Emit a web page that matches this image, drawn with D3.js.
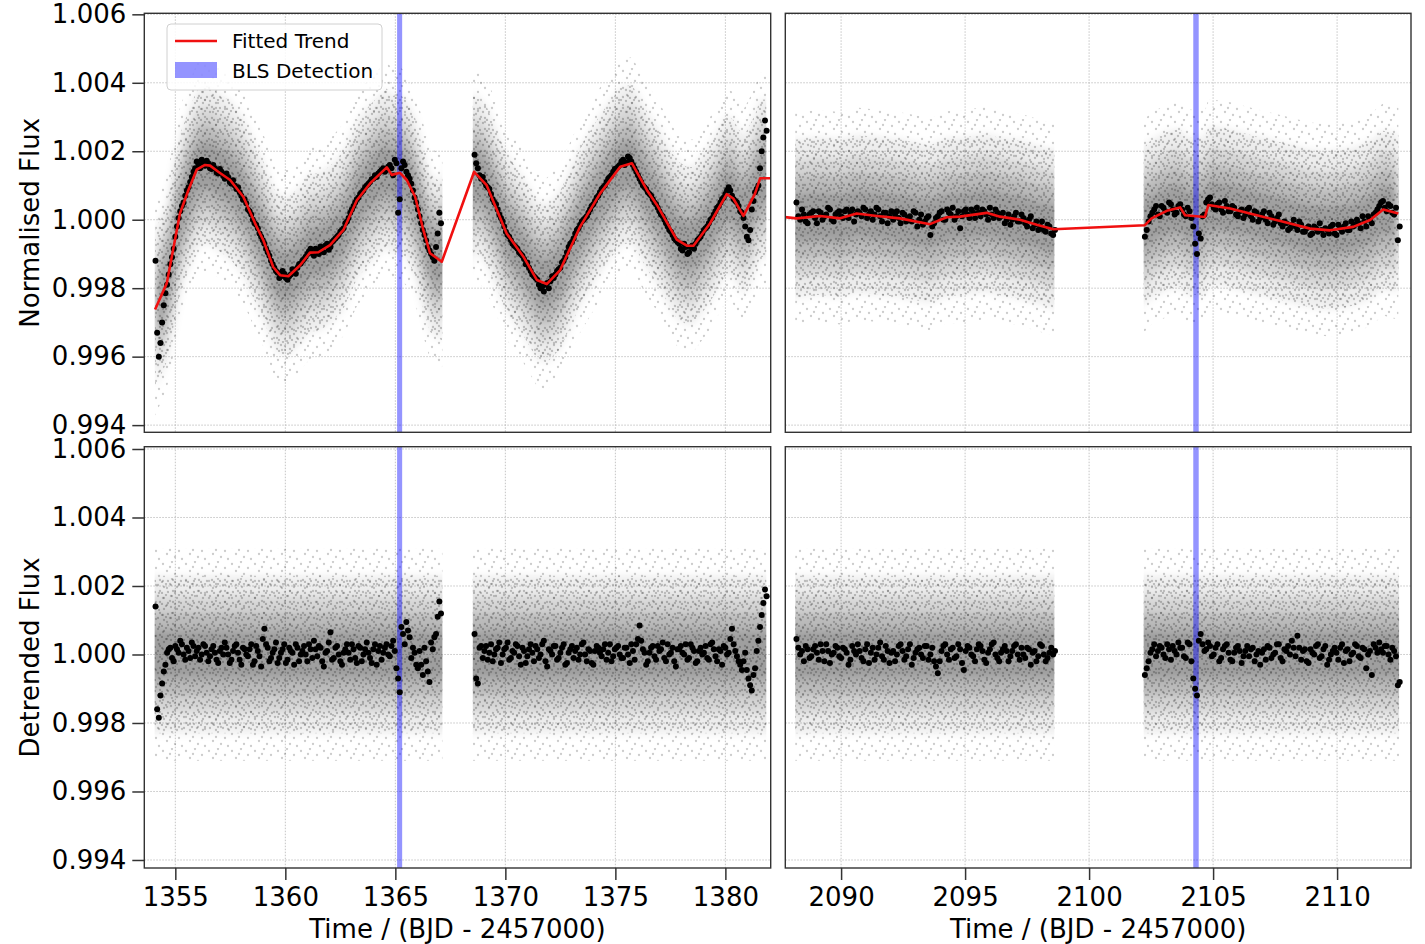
<!DOCTYPE html>
<html>
<head>
<meta charset="utf-8">
<script src="https://cdn.jsdelivr.net/npm/d3@7"></script>
<style>
  body { margin: 0; background: #fff; }
  text { font-family: "DejaVu Sans", sans-serif; fill: #000; }
</style>
</head>
<body>
<svg id="chart" width="1425" height="944"></svg>
<script>
// ---- data (flux values are stored as (flux - 1) in units of 1e-5) ----
const yTicks = [0.994, 0.996, 0.998, 1.000, 1.002, 1.004, 1.006];
const xTicksLeft = [1355, 1360, 1365, 1370, 1375, 1380];
const xTicksRight = [2090, 2095, 2100, 2105, 2110];

// fitted trend (red line)
const trendLeftTime = [1354.08, 1354.61, 1355.21, 1355.59, 1355.97, 1356.35, 1356.58, 1356.95, 1357.49, 1358.09,
  1358.70, 1359.00, 1359.45, 1359.76, 1360.14, 1360.67, 1361.12, 1361.50, 1362.03, 1362.64,
  1363.25, 1363.85, 1364.61, 1364.84, 1365.21, 1365.52, 1365.90, 1366.27, 1366.58, 1367.11,
  1368.58, 1369.15, 1370.06, 1370.82, 1371.43, 1371.88, 1372.49, 1373.40, 1374.31, 1375.22,
  1375.75, 1376.43, 1376.88, 1377.79, 1378.25, 1378.55, 1379.30, 1380.06, 1380.36, 1380.82,
  1381.12, 1381.35, 1381.58, 1382.20];
const trendLeftFlux = [-262, -186, 18, 86, 146, 160, 158, 140, 116, 67,
  -21, -60, -138, -162, -165, -133, -96, -95, -74, -30,
  57, 106, 153, 131, 137, 116, 67, -30, -98, -123,
  140, 101, -40, -108, -176, -188, -147, -20, 77, 155,
  165, 87, 44, -58, -76, -76, -11, 75, 62, 11,
  48, 77, 121, 121];
const trendRightTime = [2087.70, 2088.21, 2089.15, 2089.96, 2090.63, 2091.44, 2092.37, 2093.58, 2094.26, 2094.79,
  2095.87, 2096.41, 2097.21, 2097.89, 2098.56, 2102.25, 2102.52, 2103.13, 2103.67, 2103.87,
  2104.67, 2104.81, 2105.69, 2106.76, 2107.83, 2108.91, 2109.71, 2110.65, 2111.33, 2111.86, 2112.47];
const trendRightFlux = [8, 4, 11, 4, 18, 11, 4, -13, 7, 9,
  20, 9, 0, -15, -28, -16, 4, 26, 36, 13,
  8, 43, 33, 13, -6, -26, -31, -21, -1, 30, 18];

// time ranges covered by observations
const segmentsLeft = [[1354.06, 1367.14], [1368.52, 1381.86]];
const segmentsRight = [[2088.15, 2098.60], [2102.20, 2112.50]];

// binned light curve (black points), regular bins; two interleaved sets per segment
const binStep = 0.15;
const binStartLeft = [1354.10, 1354.175, 1368.60, 1368.675];
const binStartRight = [2088.20, 2088.275, 2102.25, 2102.325];

const binnedFluxA = [-120, -400, -300, -215, -160, -110, -50, 5, 40, 70, 95, 125, 150, 162, 175, 158, 165, 148, 150, 135,
  140, 120, 125, 105, 100, 95, 70, 60, 30, 15, -10, -25, -50, -70, -95, -120, -140, -155, -165, -158,
  -175, -160, -150, -140, -128, -115, -100, -85, -105, -90, -78, -95, -70, -80, -60, -50, -35, -25, -5, 20,
  40, 60, 75, 85, 100, 110, 120, 125, 140, 150, 145, 160, 130, 165, 60, 170, 140, 120, 85, 50,
  10, -30, -60, -90, -110, -80, 20];
const binnedFluxA2 = [-330, -360, -250, -190, -130, -85, -20, 25, 50, 85, 110, 140, 170, 150, 165, 172, 150, 160, 138, 148,
  128, 135, 110, 115, 90, 80, 58, 48, 25, 0, -15, -40, -60, -85, -105, -130, -150, -170, -150, -170,
  -165, -145, -158, -130, -120, -108, -92, -98, -85, -100, -85, -75, -88, -65, -55, -45, -30, -10, 5, 30,
  50, 65, 80, 95, 105, 118, 130, 135, 145, 140, 155, 150, 175, 20, 150, 160, 130, 105, 65, 30,
  -10, -45, -80, -100, -120, -40, -10];
const binnedFluxB = [190, 150, 120, 110, 95, 75, 50, 30, 5, -20, -45, -60, -75, -85, -100, -115, -125, -150, -165, -175,
  -200, -210, -185, -180, -170, -150, -140, -120, -95, -70, -55, -30, -15, 0, 10, 30, 45, 65, 80, 95,
  110, 125, 140, 150, 160, 175, 168, 180, 160, 140, 120, 100, 90, 75, 60, 45, 25, 10, -10, -30,
  -45, -60, -70, -90, -80, -95, -75, -70, -55, -40, -25, -10, 5, 25, 40, 60, 75, 95, 70, 55,
  40, 20, -20, -60, 30, 80, 100, 200, 290];
const binnedFluxB2 = [165, 130, 125, 100, 90, 60, 45, 15, -5, -35, -50, -70, -80, -95, -105, -130, -140, -160, -170, -190,
  -195, -190, -200, -165, -160, -145, -125, -110, -80, -65, -40, -25, -5, 5, 20, 40, 55, 70, 90, 100,
  120, 130, 148, 155, 170, 160, 185, 170, 150, 130, 110, 95, 80, 70, 50, 35, 15, 0, -20, -35,
  -55, -65, -85, -70, -100, -80, -85, -60, -50, -30, -20, 0, 15, 35, 50, 65, 85, 85, 60, 50,
  25, 5, -50, -30, 55, 90, 150, 240, 260];
const binnedFluxC = [50, 0, 15, -10, 20, 5, 25, 0, 15, 30, -5, 20, 10, 25, 5, 30, 15, 20, 35, 5,
  25, 15, 30, -5, 20, 10, 0, 25, -10, 15, 5, -5, 20, 0, -15, 5, -45, -10, 10, 25,
  0, 20, 35, 10, -25, 25, 15, 30, 5, 20, 30, 15, 35, 5, 20, 10, -10, 15, 0, 20,
  -5, 5, -20, 10, -15, -30, -5, -35, -20, -45];
const binnedFluxC2 = [10, 30, -5, 15, 25, -10, 20, 10, 35, 0, 15, 25, 5, 30, 20, -5, 25, 10, 30, 15,
  0, 35, 10, 20, -10, 25, 15, 5, 20, -5, 10, 25, -20, 15, -5, 10, -20, 5, 20, 0,
  30, 15, 0, 25, 10, 30, 5, 20, 35, 10, 25, 0, 15, 30, 5, 20, 0, -15, 10, -5,
  15, -10, 0, -25, -5, -20, -30, -15, -40, -30];
const binnedFluxD = [-50, -5, 20, 40, 10, 35, 20, 45, 15, 40, 30, 10, 25, -20, -100, -55, 15, 60, 45, 30,
  50, 20, 40, 25, 35, 10, 30, 15, 35, 0, 20, 5, 25, -10, 10, -5, 15, -20, -10, -25,
  0, -30, -15, -35, -20, -40, -25, -10, -45, -30, -20, -40, -15, -35, -10, -30, -20, 0, -25, -5,
  10, -10, 20, 40, 55, 25, 40, 15, -60];
const binnedFluxD2 = [-30, 10, 30, 15, 40, 25, 50, 30, 20, 45, 15, 35, 5, -70, -40, 10, 50, 65, 35, 45,
  30, 55, 25, 40, 15, 25, 5, 30, 10, 25, -5, 15, 0, 20, -15, 5, -10, -5, -30, -15,
  -20, -5, -35, -25, -45, -20, -35, -30, -25, -40, -15, -45, -25, -20, -30, -5, -15, -10, 10, -20,
  0, 15, 30, 50, 35, 45, 20, 35, -20];

const detrendedA = [140, -185, -85, -30, 15, -10, 25, 5, 30, -15, 10, 35, -5, 20, 0, 25, -20, 15, 5, -25,
  20, 35, 0, -15, 25, 5, -30, 15, -5, 30, -20, 10, -35, 75, 20, -10, 15, -25, 5, 30,
  -15, 10, -30, 20, 0, 25, -20, 15, 40, -5, 20, -35, 10, 65, -10, 25, -20, 5, 30, -15,
  15, -25, 20, 0, 35, -10, 15, -30, 25, 5, 30, -5, 40, -40, -110, 60, 95, 50, 20, -30,
  10, -60, -20, -80, 15, 60, 155];
const detrendedA2 = [-160, -120, -50, 5, 20, -20, 15, 40, 0, 20, -10, 25, 10, -15, 30, 5, -5, 25, -15, 10,
  0, 20, -25, 10, 30, -15, 20, 0, 15, -30, 25, -5, 45, 30, -20, 5, 35, -10, 15, -25,
  20, 5, 30, -20, 10, 0, 30, -10, 15, 25, -20, 5, 35, -15, 20, 0, -30, 15, 5, 30,
  -10, 25, -20, 15, 5, -25, 30, 10, -15, 20, 0, 25, 10, -70, 80, 30, 70, -10, 5, -40,
  -30, 20, -50, 35, 50, 110, 120];
const detrendedB = [60, -85, 25, 10, -15, 30, 0, 20, -25, 15, 35, -10, 5, 25, -30, 10, -5, 30, -20, 15,
  0, 40, -35, 10, 25, -15, 5, 30, -25, 15, -10, 20, 0, 35, -20, 10, -30, 25, 5, 15,
  -15, 30, -5, 20, 0, -10, 20, -25, 10, 30, 85, 15, -30, 5, 25, -15, 10, 35, -20, 0,
  20, -35, 15, 5, 30, -10, 20, -25, 10, 0, 25, -15, 35, -5, 15, -30, 20, 5, 75, 10,
  -20, -45, 5, -70, -105, -40, 40, 115, 190];
const detrendedB2 = [-70, 20, -10, 25, 5, -20, 15, 35, 0, 20, -15, 10, 30, -5, 20, -25, 15, 5, 25, -10,
  30, -20, 15, 0, 25, -10, 20, -30, 5, 25, 10, -15, 30, 0, 15, -25, 10, 20, -5, 30,
  5, -20, 15, 25, -10, 20, 0, 30, -15, 45, 40, 5, -20, 20, -5, 25, 15, -10, 30, 5,
  -20, 15, 25, 0, -15, 30, 10, -20, 20, 5, -10, 30, 15, -20, 10, 25, 0, 45, 30, -5,
  -30, -20, -45, -90, -60, 10, 80, 150, 170];
const detrendedC = [45, 0, -20, 15, -5, 25, -15, 10, 30, -25, 5, 20, -10, 15, -30, 25, 0, 10, -20, 30,
  5, -15, 20, -5, 25, -25, 10, 0, 30, -15, 15, -30, 5, 20, -10, 25, 0, -20, -55, 10,
  30, -15, 20, -5, 15, -45, 25, 0, -20, 30, 10, -25, 15, 35, -10, 5, 25, -20, 10, 30,
  -15, 0, 20, -30, 10, -5, 25, -20, 5, 0];
const detrendedC2 = [20, 10, 25, -10, 15, 5, 30, -20, 10, 0, 25, -5, 20, 5, -15, 10, 30, -10, 15, -25,
  20, 0, 35, -15, 10, 5, -20, 25, 10, -5, 30, -10, 15, 0, 25, -15, 20, -35, -20, 25,
  0, 15, -10, 30, -25, 10, 20, -5, 15, 25, -15, 5, 30, 0, -20, 15, 10, -5, 25, 0,
  20, -10, 15, 5, -20, 30, 0, -10, 20, 10];
const detrendedD = [-60, -20, 15, -5, 25, 0, 30, -15, 10, 35, 20, -10, 30, -70, -120, 60, 10, 35, -5, 20,
  -20, 15, 30, -15, 5, 25, -25, 10, -5, 20, 0, -30, 15, 25, -10, 5, 30, -20, 10, 0,
  20, 55, -15, 15, -25, 5, 25, -10, 15, -30, 0, 20, -15, 30, 10, -20, 5, 25, -10, 15,
  0, -60, 20, 35, 5, 25, -15, 10, -90];
const detrendedD2 = [-40, 5, 30, 10, 20, -10, 15, 25, 0, 20, -5, 35, -20, -100, 40, 30, 15, 25, 0, 30,
  -10, 25, 5, -20, 20, 10, -5, 25, 15, -20, 10, 5, -15, 20, 0, 30, -10, 15, 25, 40,
  -5, 20, 10, -20, 15, 0, 30, -5, 25, -15, 10, 5, 20, -25, 15, 0, 30, -5, 20, -40,
  10, 30, 5, 15, 25, 0, 20, -5, -80];

// spread of the unbinned points around the trend (grey cloud), in flux
const scatterLevels = [0.0031, 0.0023, 0.0017, 0.0012, 0.0007];

// BLS detection windows
const blsLeft = [1365.08, 1365.31];
const blsRight = [2104.20, 2104.42];

// ---- layout ----
const svg = d3.select("#chart");
const cols = [{ x0: 144.3, x1: 770.7 }, { x0: 785.3, x1: 1411 }];
const rows = [{ y0: 13.3, y1: 432.3 }, { y0: 446.7, y1: 868 }];

const xLeft = d3.scaleLinear().domain([1353.59, 1382.06]).range([cols[0].x0, cols[0].x1]);
const xRight = d3.scaleLinear().domain([2087.75, 2112.98]).range([cols[1].x0, cols[1].x1]);
const yTop = d3.scaleLinear().domain([0.99379, 1.00603]).range([rows[0].y1, rows[0].y0]);
const yBot = d3.scaleLinear().domain([0.993766, 1.006067]).range([rows[1].y1, rows[1].y0]);

const flux = v => 1 + v * 1e-5;

const defs = svg.append("defs");
// speckle textures to mimic the faint unbinned points
function speckle(id, w, h, pts, op) {
  const p = defs.append("pattern").attr("id", id).attr("patternUnits", "userSpaceOnUse")
    .attr("width", w).attr("height", h);
  pts.forEach(q => p.append("circle").attr("cx", q[0]).attr("cy", q[1]).attr("r", 1.15)
    .attr("fill", "#000").attr("fill-opacity", op));
}
speckle("spk1", 23, 17, [[2, 3], [11, 1], [18, 7], [6, 10], [14, 13], [21, 15], [9, 6]], 0.2);
speckle("spk2", 13, 11, [[2, 2], [8, 4], [12, 9], [4, 8], [10, 1], [6, 10]], 0.22);
const soft = defs.append("filter").attr("id", "soft").attr("x", "-5%").attr("y", "-20%")
  .attr("width", "110%").attr("height", "140%");
soft.append("feGaussianBlur").attr("stdDeviation", 4);

const panels = [
  { row: 0, col: 0, x: xLeft, y: yTop, seg: segmentsLeft, xt: xTicksLeft, bls: blsLeft,
    trend: [trendLeftTime, trendLeftFlux],
    bins: d3.zip(binStartLeft, [binnedFluxA, binnedFluxA2, binnedFluxB, binnedFluxB2]) },
  { row: 0, col: 1, x: xRight, y: yTop, seg: segmentsRight, xt: xTicksRight, bls: blsRight,
    trend: [trendRightTime, trendRightFlux],
    bins: d3.zip(binStartRight, [binnedFluxC, binnedFluxC2, binnedFluxD, binnedFluxD2]) },
  { row: 1, col: 0, x: xLeft, y: yBot, seg: segmentsLeft, xt: xTicksLeft, bls: blsLeft, trend: null,
    bins: d3.zip(binStartLeft, [detrendedA, detrendedA2, detrendedB, detrendedB2]) },
  { row: 1, col: 1, x: xRight, y: yBot, seg: segmentsRight, xt: xTicksRight, bls: blsRight, trend: null,
    bins: d3.zip(binStartRight, [detrendedC, detrendedC2, detrendedD, detrendedD2]) }
];

panels.forEach((p, k) => {
  const c = cols[p.col], r = rows[p.row];
  const g = svg.append("g");

  // clip to the frame
  defs.append("clipPath").attr("id", "frame" + k)
    .append("rect").attr("x", c.x0).attr("y", r.y0).attr("width", c.x1 - c.x0).attr("height", r.y1 - r.y0);
  // clip to observed segments (for the grey cloud)
  const segClip = defs.append("clipPath").attr("id", "seg" + k);
  p.seg.forEach(s => segClip.append("rect").attr("x", p.x(s[0])).attr("y", r.y0)
    .attr("width", p.x(s[1]) - p.x(s[0])).attr("height", r.y1 - r.y0));

  // grid
  const grid = g.append("g").attr("stroke", "#b5b5b5").attr("stroke-width", 0.8).attr("stroke-dasharray", "1.5,1.5");
  p.xt.forEach(t => grid.append("line").attr("x1", p.x(t)).attr("x2", p.x(t)).attr("y1", r.y0).attr("y2", r.y1));
  yTicks.forEach(t => grid.append("line").attr("x1", c.x0).attr("x2", c.x1).attr("y1", p.y(t)).attr("y2", p.y(t)));

  const plot = g.append("g").attr("clip-path", "url(#frame" + k + ")");
  const cloud = plot.append("g").attr("clip-path", "url(#seg" + k + ")");
  const haze = cloud.append("g").attr("filter", "url(#soft)");

  // grey cloud of unbinned points
  const fillOp = [0.0, 0.07, 0.10, 0.13, 0.15];
  scatterLevels.forEach((w, i) => {
    let pathD;
    if (p.trend) {
      const rowsT = p.trend[0].map((t, j) => ({ t: t, v: flux(p.trend[1][j]) }));
      pathD = d3.area().x(d => p.x(d.t)).y0(d => p.y(d.v - w)).y1(d => p.y(d.v + w))(rowsT);
    } else {
      const rowsT = p.seg.flatMap(s => [{ t: s[0] - 1 }, { t: s[1] + 1 }]);
      pathD = d3.area().x(d => p.x(d.t)).y0(p.y(1 - w)).y1(p.y(1 + w))(rowsT);
    }
    if (fillOp[i] > 0) haze.append("path").attr("d", pathD).attr("fill", "#000").attr("fill-opacity", fillOp[i]);
    if (i === 0) cloud.append("path").attr("d", pathD).attr("fill", "url(#spk1)");
    if (i === 1) cloud.append("path").attr("d", pathD).attr("fill", "url(#spk2)");
  });

  // BLS detection window
  plot.append("rect").attr("x", p.x(p.bls[0])).attr("y", r.y0)
    .attr("width", p.x(p.bls[1]) - p.x(p.bls[0])).attr("height", r.y1 - r.y0)
    .attr("fill", "#0000ff").attr("fill-opacity", 0.42);

  // binned points
  p.bins.forEach(b => {
    plot.append("g").selectAll("circle").data(b[1]).join("circle")
      .attr("cx", (v, i) => p.x(b[0] + i * binStep))
      .attr("cy", v => p.y(flux(v)))
      .attr("r", 3).attr("fill", "#000");
  });

  // fitted trend
  if (p.trend) {
    const line = d3.line().x(d => p.x(d[0])).y(d => p.y(flux(d[1])));
    plot.append("path").attr("d", line(d3.zip(p.trend[0], p.trend[1])))
      .attr("fill", "none").attr("stroke", "#f01010").attr("stroke-width", 2.6).attr("stroke-linejoin", "round");
  }

  // frame
  g.append("rect").attr("x", c.x0).attr("y", r.y0).attr("width", c.x1 - c.x0).attr("height", r.y1 - r.y0)
    .attr("fill", "none").attr("stroke", "#333").attr("stroke-width", 1.4);

  // axes on the outer panels only
  if (p.col === 0) {
    const ax = g.append("g").attr("transform", "translate(" + c.x0 + ",0)")
      .call(d3.axisLeft(p.y).tickValues(yTicks).tickSize(12).tickSizeOuter(0).tickPadding(6).tickFormat(d3.format(".3f")));
    ax.select(".domain").remove();
    ax.selectAll("line").attr("stroke", "#333").attr("stroke-width", 1.5);
    ax.selectAll("text").attr("font-size", 26).attr("font-family", "DejaVu Sans");
  }
  if (p.row === 1) {
    const ax = g.append("g").attr("transform", "translate(0," + r.y1 + ")")
      .call(d3.axisBottom(p.x).tickValues(p.xt).tickSize(12).tickSizeOuter(0).tickPadding(8).tickFormat(d3.format("d")));
    ax.select(".domain").remove();
    ax.selectAll("line").attr("stroke", "#333").attr("stroke-width", 1.5);
    ax.selectAll("text").attr("font-size", 26).attr("font-family", "DejaVu Sans");
    g.append("text").attr("x", (c.x0 + c.x1) / 2).attr("y", 938).attr("text-anchor", "middle")
      .attr("font-size", 26).text("Time / (BJD - 2457000)");
  }
});

// y axis titles
[["Normalised Flux", rows[0]], ["Detrended Flux", rows[1]]].forEach(d => {
  svg.append("text").attr("transform", "translate(39," + (d[1].y0 + d[1].y1) / 2 + ") rotate(-90)")
    .attr("text-anchor", "middle").attr("font-size", 26).text(d[0]);
});

// legend
const lg = svg.append("g");
lg.append("rect").attr("x", 167).attr("y", 24).attr("width", 215).attr("height", 66).attr("rx", 4)
  .attr("fill", "#fff").attr("fill-opacity", 0.85).attr("stroke", "#d0d0d0");
lg.append("line").attr("x1", 175).attr("x2", 217).attr("y1", 41).attr("y2", 41)
  .attr("stroke", "#f01010").attr("stroke-width", 2.4);
lg.append("text").attr("x", 232).attr("y", 48).attr("font-size", 20).text("Fitted Trend");
lg.append("rect").attr("x", 175).attr("y", 62).attr("width", 42).attr("height", 16)
  .attr("fill", "#0000ff").attr("fill-opacity", 0.42);
lg.append("text").attr("x", 232).attr("y", 78).attr("font-size", 20).text("BLS Detection");
</script>
</body>
</html>
